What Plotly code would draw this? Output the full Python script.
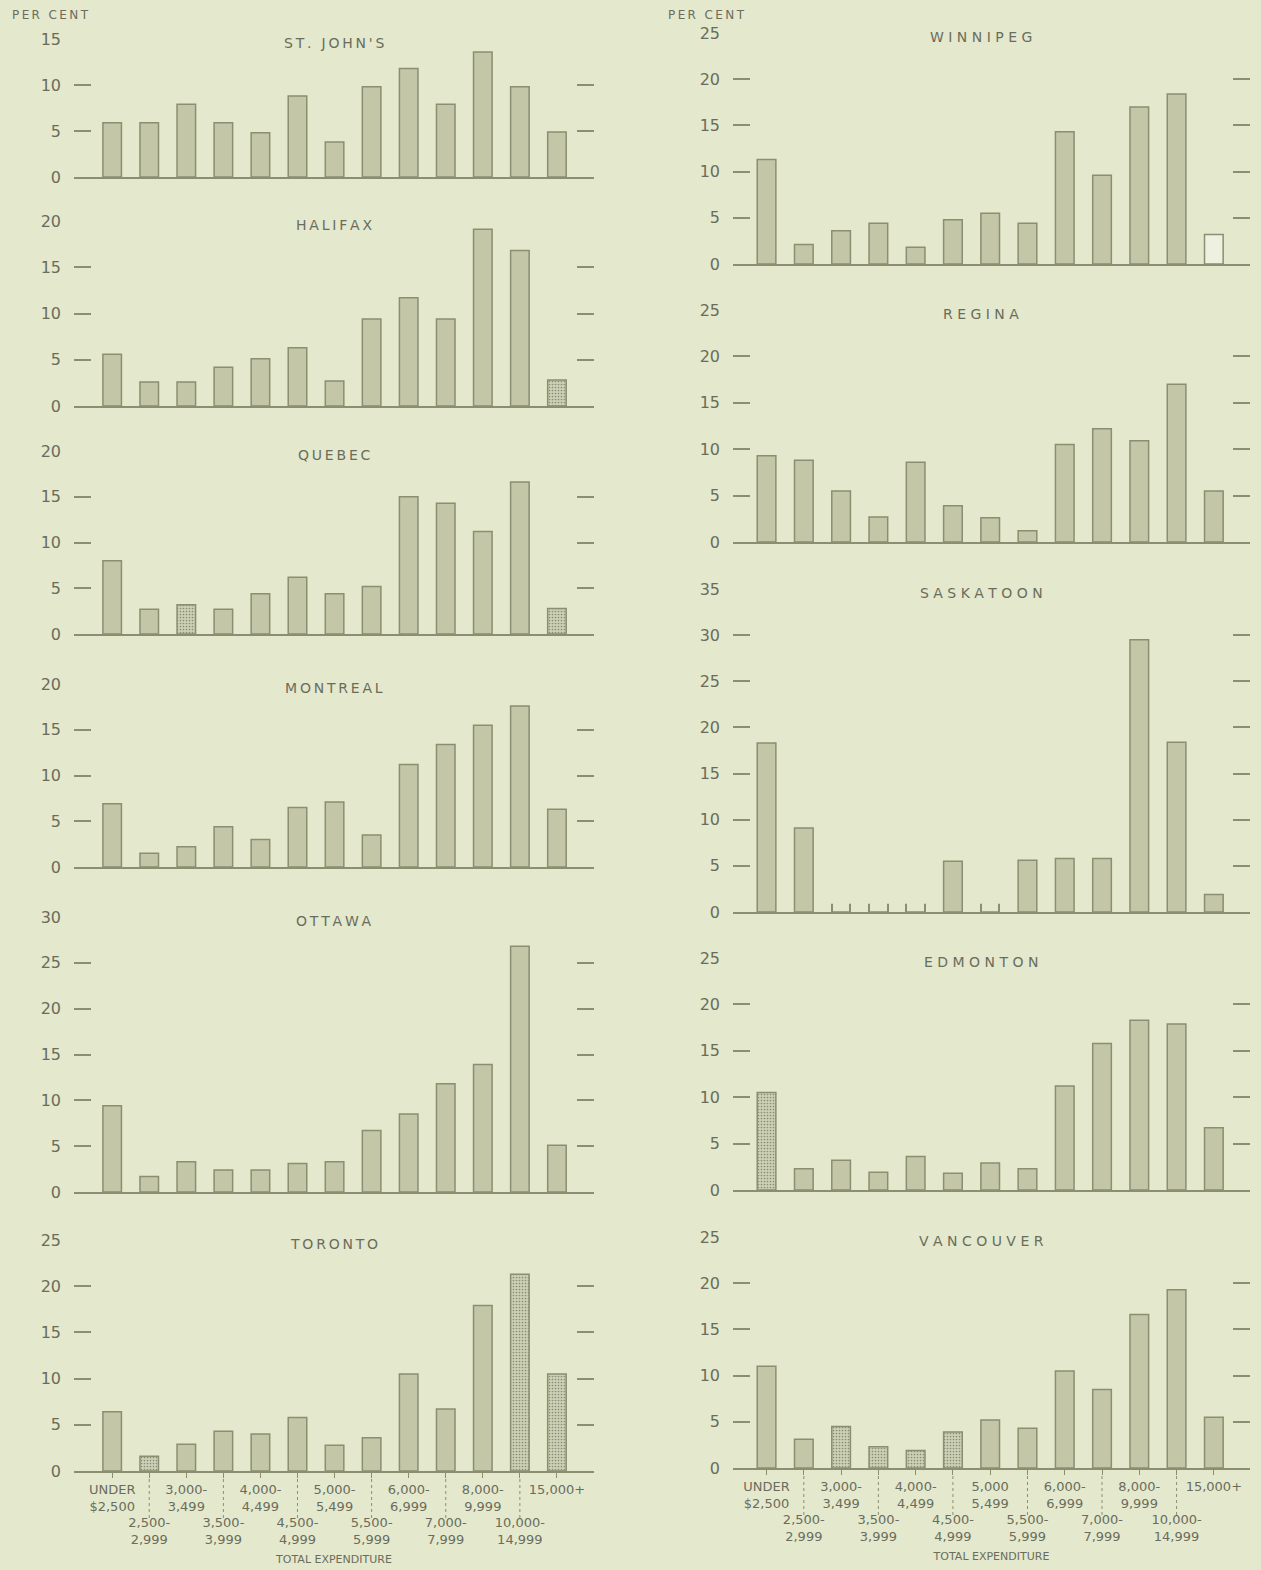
import plotly.graph_objects as go

# expenditure classes (same for every city)
categories = ["UNDER $2,500", "2,500-2,999", "3,000-3,499", "3,500-3,999",
              "4,000-4,499", "4,500-4,999", "5,000-5,499", "5,500-5,999",
              "6,000-6,999", "7,000-7,999", "8,000-9,999", "10,000-14,999",
              "15,000+"]

# tick labels (odd classes on the upper row, even classes on the lower row)
left_ticktext = ["UNDER<br>$2,500", "<br><br>2,500-<br>2,999", "3,000-<br>3,499",
                 "<br><br>3,500-<br>3,999", "4,000-<br>4,499", "<br><br>4,500-<br>4,999",
                 "5,000-<br>5,499", "<br><br>5,500-<br>5,999", "6,000-<br>6,999",
                 "<br><br>7,000-<br>7,999", "8,000-<br>9,999", "<br><br>10,000-<br>14,999",
                 "15,000+"]
right_ticktext = ["UNDER<br>$2,500", "<br><br>2,500-<br>2,999", "3,000-<br>3,499",
                  "<br><br>3,500-<br>3,999", "4,000-<br>4,499", "<br><br>4,500-<br>4,999",
                  "5,000<br>5,499", "<br><br>5,500-<br>5,999", "6,000-<br>6,999",
                  "<br><br>7,000-<br>7,999", "8,000-<br>9,999", "<br><br>10,000-<br>14,999",
                  "15,000+"]

# percent of families in each class
st_johns = [5.9, 5.9, 7.9, 5.9, 4.8, 8.8, 3.8, 9.8, 11.8, 7.9, 13.6, 9.8, 4.9]
halifax = [5.6, 2.6, 2.6, 4.2, 5.1, 6.3, 2.7, 9.4, 11.7, 9.4, 19.1, 16.8, 2.8]
quebec = [8.0, 2.7, 3.2, 2.7, 4.4, 6.2, 4.4, 5.2, 15.0, 14.3, 11.2, 16.6, 2.8]
montreal = [6.9, 1.5, 2.2, 4.4, 3.0, 6.5, 7.1, 3.5, 11.2, 13.4, 15.5, 17.6, 6.3]
ottawa = [9.4, 1.7, 3.3, 2.4, 2.4, 3.1, 3.3, 6.7, 8.5, 11.8, 13.9, 26.8, 5.1]
toronto = [6.4, 1.6, 2.9, 4.3, 4.0, 5.8, 2.8, 3.6, 10.5, 6.7, 17.9, 21.3, 10.5]
winnipeg = [11.3, 2.1, 3.6, 4.4, 1.8, 4.8, 5.5, 4.4, 14.3, 9.6, 17.0, 18.4, 3.2]
regina = [9.3, 8.8, 5.5, 2.7, 8.6, 3.9, 2.6, 1.2, 10.5, 12.2, 10.9, 17.0, 5.5]
saskatoon = [18.3, 9.1, 0, 0, 0, 5.5, 0, 5.6, 5.8, 5.8, 29.5, 18.4, 1.9]
edmonton = [10.5, 2.3, 3.2, 1.9, 3.6, 1.8, 2.9, 2.3, 11.2, 15.8, 18.3, 17.9, 6.7]
vancouver = [11.0, 3.1, 4.5, 2.3, 1.9, 3.9, 5.2, 4.3, 10.5, 8.5, 16.6, 19.3, 5.5]

# bars drawn stippled / left open in the original (less reliable estimates)
stippled = {"HALIFAX": [12], "QUEBEC": [2, 12], "TORONTO": [1, 11, 12],
            "EDMONTON": [0], "VANCOUVER": [2, 3, 4, 5]}
open_bars = {"WINNIPEG": [12]}

panels = [
    ("ST. JOHN'S", st_johns, 15), ("HALIFAX", halifax, 20), ("QUEBEC", quebec, 20),
    ("MONTREAL", montreal, 20), ("OTTAWA", ottawa, 30), ("TORONTO", toronto, 25),
    ("WINNIPEG", winnipeg, 25), ("REGINA", regina, 25), ("SASKATOON", saskatoon, 35),
    ("EDMONTON", edmonton, 25), ("VANCOUVER", vancouver, 25),
]

# layout (pixels): column, zero line y, top tick y
W, H = 1261, 1570
COLS = {"left": (74, 594, [-1.03, 13.0]), "right": (733, 1250, [-0.9, 12.97])}
BOX = {
    "ST. JOHN'S": ("left", 177, 39), "HALIFAX": ("left", 406, 221),
    "QUEBEC": ("left", 634, 451), "MONTREAL": ("left", 867, 684),
    "OTTAWA": ("left", 1192, 917), "TORONTO": ("left", 1471, 1240),
    "WINNIPEG": ("right", 264, 33), "REGINA": ("right", 542, 310),
    "SASKATOON": ("right", 912, 589), "EDMONTON": ("right", 1190, 958),
    "VANCOUVER": ("right", 1468, 1237),
}
BOTTOM = {"TORONTO": left_ticktext, "VANCOUVER": right_ticktext}

BG = "#e4e8cd"
BAR = "#c3c7a7"
EDGE = "#8b8e71"
TXT = "#6a6d5b"
FONT = "DejaVu Sans"

fig = go.Figure()
layout = {}

for i, (name, vals, ymax) in enumerate(panels, start=1):
    col, y_zero, y_top = BOX[name]
    x0, x1, xr = COLS[col]
    sfx = "" if i == 1 else str(i)
    stip = stippled.get(name, [])
    opn = open_bars.get(name, [])
    colors = ["#cdd1b3" if k in stip else ("#eef1df" if k in opn else BAR)
              for k in range(len(categories))]
    shapes = ["." if k in stip else "" for k in range(len(categories))]

    fig.add_trace(go.Bar(
        x=categories, y=vals, width=0.5, xaxis="x" + sfx, yaxis="y" + sfx,
        marker=dict(color=colors, line=dict(color=EDGE, width=1.5),
                    pattern=dict(shape=shapes, fgcolor="#a4a78a", size=3,
                                 solidity=0.25, fillmode="overlay")),
        showlegend=False, hoverinfo="x+y"))

    # empty classes are drawn as two short bar sides sitting on the axis
    zero_cats = [c for c, v in zip(categories, vals) if v == 0]
    if zero_cats:
        for off in (-0.26, 0.235):
            fig.add_trace(go.Bar(
                x=zero_cats, y=[0.9] * len(zero_cats), width=0.025, offset=off,
                xaxis="x" + sfx, yaxis="y" + sfx, marker=dict(color=EDGE, line_width=0),
                showlegend=False, hoverinfo="skip"))

    is_bottom = name in BOTTOM
    xa = dict(domain=[x0 / W, x1 / W], range=xr, type="category", anchor="y" + sfx,
              showline=True, linecolor=EDGE, linewidth=2, showgrid=False,
              zeroline=False, fixedrange=True, showticklabels=is_bottom,
              automargin=False, ticks="outside" if is_bottom else "")
    if is_bottom:
        xa.update(tickvals=categories, ticktext=BOTTOM[name], tickangle=0,
                  ticklen=5, tickwidth=1, tickcolor=EDGE,
                  tickfont=dict(family=FONT, size=13, color=TXT),
                  title=dict(text="TOTAL EXPENDITURE", standoff=9,
                             font=dict(family=FONT, size=11, color=TXT)))
    ya = dict(domain=[1 - y_zero / H, 1 - y_top / H], range=[0, ymax],
              anchor="x" + sfx, tickvals=list(range(0, ymax + 1, 5)),
              ticks="inside", ticklen=17, tickwidth=1.5, tickcolor=EDGE,
              mirror="ticks", showline=False, showgrid=False, zeroline=False,
              ticklabelstandoff=12, fixedrange=True, automargin=False,
              tickfont=dict(family=FONT, size=16, color=TXT))
    layout["xaxis" + sfx] = xa
    layout["yaxis" + sfx] = ya

    sep = " " if col == "right" else "\u2009"
    fig.add_annotation(text=sep.join(name), xref=f"x{sfx} domain", yref=f"y{sfx} domain",
                       x=0.5 if col == "left" else 0.48, y=1, yshift=6,
                       showarrow=False, font=dict(family=FONT, size=14, color=TXT))

    if is_bottom:
        dom_h = y_zero - y_top
        for k in range(1, len(categories), 2):
            fig.add_shape(type="line", xref="x" + sfx, yref=f"y{sfx} domain",
                          x0=categories[k], x1=categories[k],
                          y0=-8 / dom_h, y1=-50 / dom_h,
                          line=dict(color=EDGE, width=1, dash="dot"))

for px_x in (10, 666):
    fig.add_annotation(text="\u2009".join("PER CENT"), xref="paper", yref="paper",
                       x=px_x / W, y=1 - 15 / H, xanchor="left", yanchor="middle",
                       showarrow=False, font=dict(family=FONT, size=12, color=TXT))

fig.update_layout(**layout)
fig.update_layout(width=W, height=H, margin=dict(l=0, r=0, t=0, b=0, autoexpand=False),
                  paper_bgcolor=BG, plot_bgcolor=BG, bargap=0.5,
                  font=dict(family=FONT, color=TXT))

fig.write_html("out.html", config={"displayModeBar": False},
               post_script="document.body.style.margin='0';"
                           "document.body.style.background='%s';" % BG)
